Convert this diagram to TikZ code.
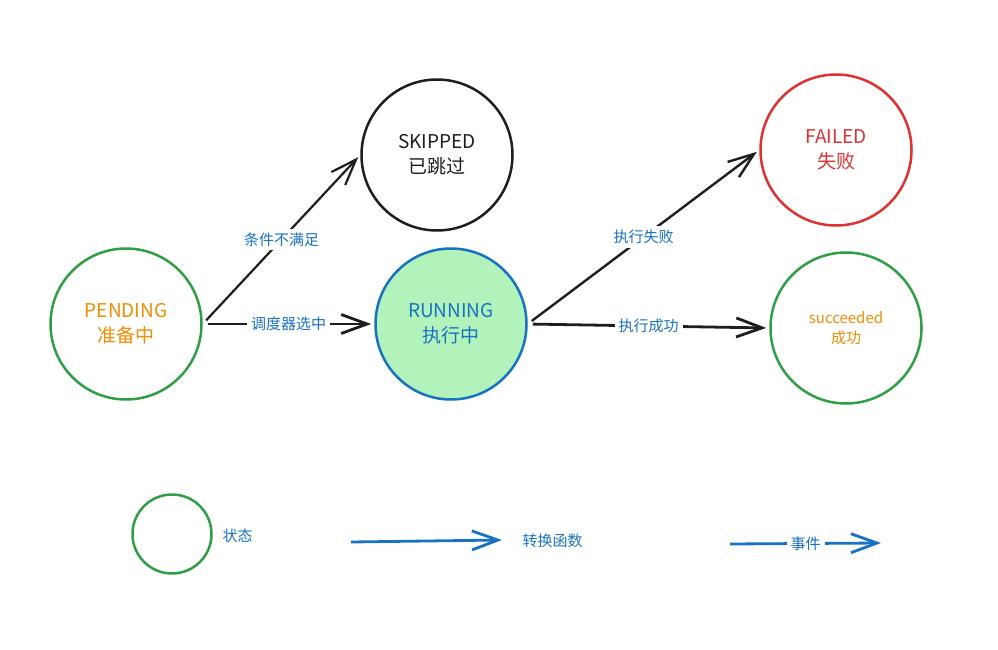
\documentclass[tikz,border=0pt]{standalone}
\usepackage{fontspec}
\setmainfont{Noto Sans CJK SC}
\usetikzlibrary{arrows.meta,positioning}
\definecolor{ink}{HTML}{1E1E1E}
\definecolor{lblblue}{HTML}{1971C2}
\definecolor{stgreen}{HTML}{2F9E44}
\definecolor{storange}{HTML}{F08C00}
\definecolor{stred}{HTML}{E03131}
\definecolor{runfill}{HTML}{B2F2BB}

\begin{document}
\begin{tikzpicture}[x = 1pt, y = -1pt,
  state/.style = {circle, draw, line width = 2.5pt, minimum size = 151pt, inner sep = 0pt, align = center, font = \fontsize{19}{25}\selectfont},
  trans/.style = {draw = ink, line width = 2.8pt, -{Straight Barb[length = 26pt, width = 19pt]}, shorten <= 5pt, shorten >= 3pt},
  lbl/.style = {fill = white, text = lblblue, font = \fontsize{15}{18}\selectfont, inner sep = 4pt}]
\useasboundingbox (0,0) rectangle (998,650);
% states
\node[state, draw = stgreen, text = storange] (pending) at (126,324) {PENDING\\准备中};
\node[state, draw = ink, text = ink] (skipped) at (437,155) {SKIPPED\\已跳过};
\node[state, draw = lblblue, fill = runfill, text = lblblue] (running) at (451,324) {RUNNING\\执行中};
\node[state, draw = stred, text = stred] (failed) at (836,150) {FAILED\\失败};
\node[state, draw = stgreen, text = storange, font = \fontsize{15}{20}\selectfont] (succeeded) at (846,328) {succeeded\\成功};
% transitions
\draw[trans, line width = 2.2pt] (pending.east) -- node[lbl] {条件不满足} (skipped.west);
\draw[trans] (pending.east) -- node[lbl] {调度器选中} (running.west);
\draw[trans, line width = 2.4pt] (running.east) -- node[lbl] {执行失败} (failed.west);
\draw[trans] (running.east) -- node[lbl] {执行成功} (succeeded.west);
% legend
\node[circle, draw = stgreen, line width = 2.5pt, minimum size = 79pt, inner sep = 0pt] (legstate) at (172,534) {};
\node[text = lblblue, font = \fontsize{15}{18}\selectfont, anchor = west] (legstatetxt) at (219,536) {状态};
\coordinate (funcfrom) at (351,542);
\coordinate (functo) at (502,540);
\draw[trans, draw = lblblue, shorten <= 0pt, shorten >= 0pt] (funcfrom) -- (functo);
\node[text = lblblue, font = \fontsize{15}{18}\selectfont, anchor = west] (functxt) at (519,541) {转换函数};
\coordinate (eventfrom) at (730,544);
\coordinate (eventto) at (881,543);
\draw[trans, draw = lblblue, shorten <= 0pt, shorten >= 0pt] (eventfrom) -- node[lbl] {事件} (eventto);
\end{tikzpicture}
\end{document}
